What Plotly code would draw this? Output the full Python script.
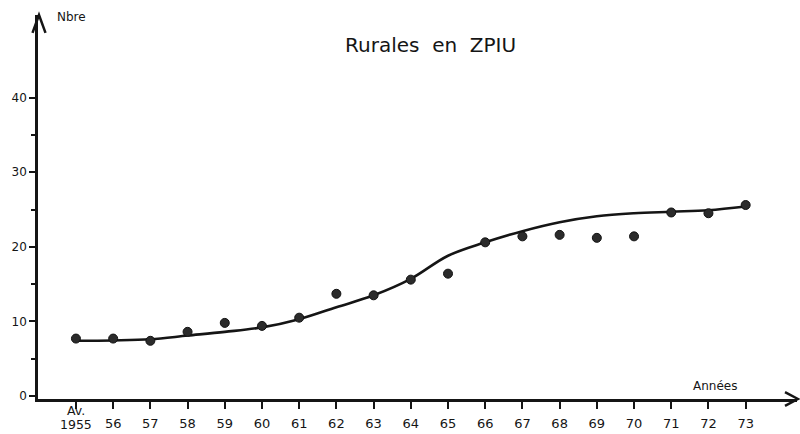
import plotly.graph_objects as go

# ---- data ----
year_labels = ["Av.<br>1955", "56", "57", "58", "59", "60", "61", "62", "63", "64",
               "65", "66", "67", "68", "69", "70", "71", "72", "73"]
observed = [7.7, 7.7, 7.4, 8.6, 9.8, 9.4, 10.5, 13.7, 13.5, 15.6,
            16.4, 20.6, 21.4, 21.6, 21.2, 21.4, 24.6, 24.5, 25.6]
trend = [7.4, 7.45, 7.6, 8.1, 8.6, 9.2, 10.3, 11.9, 13.5, 15.7,
         18.8, 20.6, 22.1, 23.3, 24.1, 24.5, 24.7, 24.9, 25.4]
y_major = [0, 10, 20, 30, 40]
y_minor = [5, 15, 25, 35]

W, H = 800, 434
ML, MR, MT, MB = 38, 3, 15, 33
PW, PH = W - ML - MR, H - MT - MB


def pxx(p):
    return (p - ML) / PW


def pyy(p):
    return (H - MB - p) / PH


xs = list(range(len(year_labels)))
INK = "#151515"
FONT = "DejaVu Sans"

fig = go.Figure()
fig.add_trace(go.Scatter(x=xs, y=trend, mode="lines",
                         line=dict(color=INK, width=2.6, shape="spline", smoothing=1.0),
                         hoverinfo="skip", showlegend=False))
fig.add_trace(go.Scatter(x=xs, y=observed, mode="markers",
                         marker=dict(color="#2b2b2b", size=9,
                                     line=dict(color="#111", width=1)),
                         showlegend=False))

ticktext = [""] + year_labels[1:]
first_lines = year_labels[0].split("<br>")

annotations = [
    dict(text="Rurales\u00a0\u00a0en\u00a0\u00a0ZPIU", xref="paper", yref="paper",
         x=pxx(430), y=pyy(45), xanchor="center", yanchor="middle",
         showarrow=False, font=dict(family=FONT, size=20, color=INK)),
    dict(text="Nbre", xref="paper", yref="paper",
         x=pxx(55), y=pyy(17), xanchor="left", yanchor="middle",
         showarrow=False, font=dict(family=FONT, size=12, color=INK)),
    dict(text="Années", xref="paper", yref="paper",
         x=pxx(715), y=pyy(388), xanchor="center", yanchor="middle",
         showarrow=False, font=dict(family=FONT, size=12, color=INK)),
]
for line_text, ypix in zip(first_lines, [413, 427]):
    annotations.append(dict(text=line_text, xref="x", yref="paper",
                            x=xs[0], y=pyy(ypix), xanchor="center", yanchor="middle",
                            showarrow=False, font=dict(family=FONT, size=12.5, color=INK)))

fig.update_layout(
    width=W, height=H,
    margin=dict(l=ML, r=MR, t=MT, b=MB),
    paper_bgcolor="white", plot_bgcolor="white",
    font=dict(family=FONT, color=INK, size=13),
    xaxis=dict(range=[-1.02, 19.38], showgrid=False, zeroline=False,
               showline=True, linecolor=INK, linewidth=2.5,
               tickmode="array", tickvals=xs, ticktext=ticktext,
               ticks="outside", ticklen=7, tickwidth=2, tickcolor=INK,
               ticklabelstandoff=4,
               tickfont=dict(family=FONT, size=13, color=INK)),
    yaxis=dict(range=[-0.4, 51.07], showgrid=False, zeroline=False,
               showline=True, linecolor=INK, linewidth=2.5,
               tickmode="array", tickvals=y_major,
               ticktext=[str(v) for v in y_major],
               ticks="outside", ticklen=6, tickwidth=2, tickcolor=INK,
               tickfont=dict(family=FONT, size=12, color=INK),
               minor=dict(tickmode="array", tickvals=y_minor, ticks="outside",
                          ticklen=4, tickwidth=2, tickcolor=INK)),
    shapes=[
        dict(type="path", xref="paper", yref="paper",
             path=f"M {pxx(32.5)} {pyy(33)} L {pxx(39)} {pyy(15)} L {pxx(45.5)} {pyy(33)}",
             line=dict(color=INK, width=2.5)),
        dict(type="path", xref="paper", yref="paper",
             path=f"M {pxx(785)} {pyy(394)} L {pxx(798)} {pyy(401)} L {pxx(785)} {pyy(408)}",
             line=dict(color=INK, width=2.5)),
    ],
    annotations=annotations,
)

fig.write_html("out.html", config={"displayModeBar": False},
               post_script="document.body.style.margin='0';document.body.style.overflow='hidden';")
